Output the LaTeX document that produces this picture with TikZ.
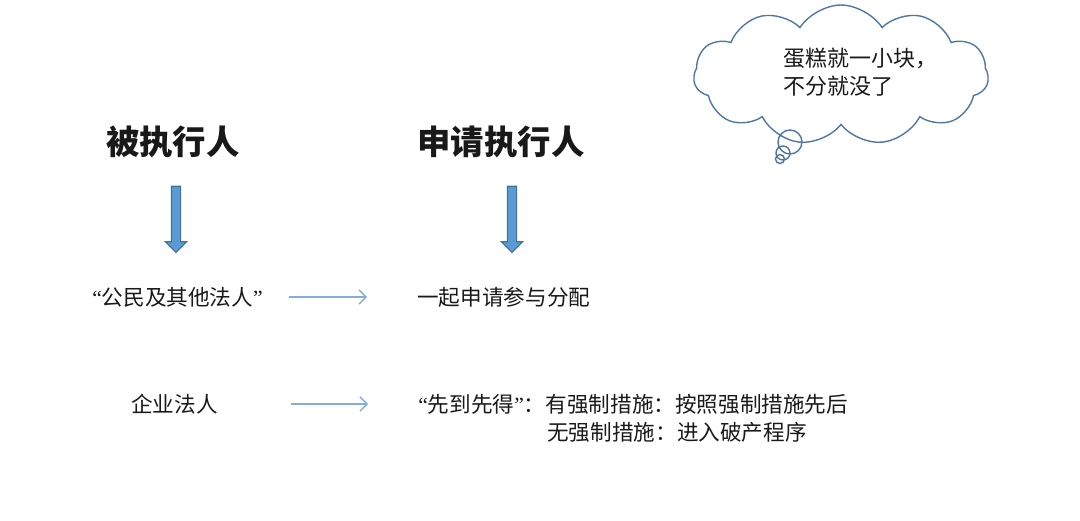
\documentclass[tikz,border=0pt]{standalone}
\usepackage{fontspec}
\setmainfont{Noto Sans CJK SC}
\newfontfamily\quotefont{Liberation Serif}
\newcommand{\quoteL}{{\quotefont “}}
\newcommand{\quoteR}{{\quotefont ”}}
\usepackage{xcolor}
\usetikzlibrary{shapes.symbols, shapes.arrows, arrows.meta, positioning}
\definecolor{arrowblue}{RGB}{91,155,213}
\definecolor{arrowedge}{RGB}{65,113,156}
\definecolor{linkblue}{RGB}{135,172,215}
\definecolor{cloudline}{RGB}{80,118,168}
\definecolor{inktext}{RGB}{25,25,25}

\begin{document}
\begin{tikzpicture}[x=0.02cm, y=-0.02cm]

	% --- STYLES ---
	\tikzstyle{heading} = [font=\fontsize{19}{23}\selectfont\bfseries, text=inktext, inner sep=0pt]
	\tikzstyle{item} = [font=\fontsize{12.3}{16}\selectfont, text=inktext, inner sep=0pt, anchor=west]
	\tikzstyle{blockarrow} = [single arrow, rotate=-90, draw=arrowedge, fill=arrowblue, line width=0.6pt, minimum height=1.32cm, minimum width=0.4cm, inner sep=0.08cm, single arrow head extend=0.12cm]
	\tikzstyle{link} = [draw=linkblue, line width=0.8pt, -{Straight Barb[length=4pt, width=8pt]}]
	\tikzstyle{bubble} = [cloud, cloud puffs=11, cloud puff arc=115, aspect=2.1, draw=cloudline, line width=0.8pt, minimum width=5.9cm, minimum height=2.8cm]

	\useasboundingbox (0,0) rectangle (1080,521);

	% --- HEADINGS ---
	\node (debtor) [heading] at (173,142) {被执行人};
	\node (creditor) [heading] at (501,142) {申请执行人};

	% --- BLOCK ARROWS ---
	\node (downleft) [blockarrow] at (176,217) {};
	\node (downright) [blockarrow] at (512,217) {};

	% --- ROWS ---
	\node (citizen) [item] at (92,297) {\quoteL 公民及其他法人\quoteR};
	\node (together) [item] at (417,297) {一起申请参与分配};
	\node (company) [item] at (131,404) {企业法人};
	\node (first) [item] at (418,404) {\quoteL 先到先得\quoteR：有强制措施：按照强制措施先后};
	\node (second) [item] at (547,432) {无强制措施：进入破产程序};

	\draw [link, shorten <=0.52cm, shorten >=1.0cm] (citizen.east) -- (together.west);
	\draw [link, shorten <=1.46cm, shorten >=1.0cm] (company.east) -- (first.west);

	% --- THOUGHT CLOUD ---
	\node (bubble) [bubble] at (841,75) {};
	\node (bubbletext) [item, align=left, font=\fontsize{12.5}{16}\selectfont] at (783,72) {蛋糕就一小块，\\不分就没了};
	\draw [cloudline, line width=0.8pt] (790,142) circle [radius=0.24cm];
	\draw [cloudline, line width=0.8pt] (783,153) circle [radius=0.14cm];
	\draw [cloudline, line width=0.8pt] (780,159) circle [radius=0.09cm];

\end{tikzpicture}
\end{document}
